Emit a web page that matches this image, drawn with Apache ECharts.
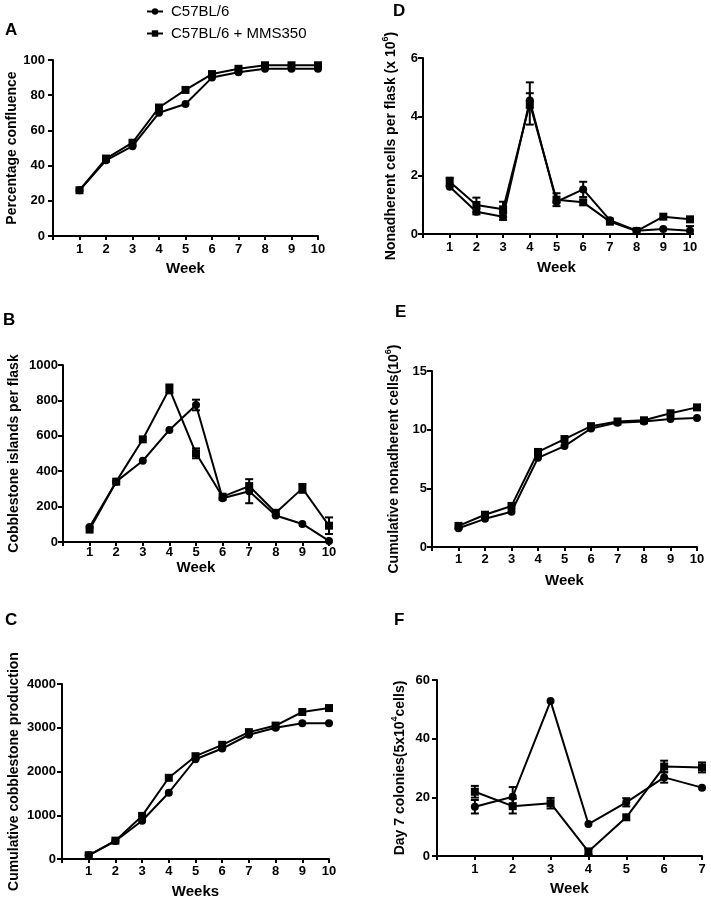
<!DOCTYPE html>
<html>
<head>
<meta charset="utf-8">
<script src="https://cdn.jsdelivr.net/npm/echarts@6/dist/echarts.min.js"></script>
<style>
html,body{margin:0;padding:0;background:#fff;}
#chart{width:711px;height:900px;}
</style>
</head>
<body>
<div id="chart"></div>
<script>
// ---------------- data ----------------
const seriesNames = ['C57BL/6', 'C57BL/6 + MMS350'];
const weeks10 = [1, 2, 3, 4, 5, 6, 7, 8, 9, 10];
const weeks7 = [1, 2, 3, 4, 5, 6, 7];

// A: Percentage confluence
const aCirc = [26, 43, 51, 70, 75, 90, 93, 95, 95, 95];
const aSq   = [26, 44, 53, 73, 83, 92, 95, 97, 97, 97];

// B: Cobblestone islands per flask
const bCirc    = [85, 341, 459, 633, 774, 247, 287, 150, 102, 6];
const bCircErr = [0, 0, 0, 0, 30, 0, 68, 0, 0, 0];
const bSq      = [70, 341, 580, 865, 501, 256, 316, 165, 303, 92];
const bSqErr   = [0, 0, 0, 25, 28, 0, 0, 0, 25, 47];

// C: Cumulative cobblestone production
const cCirc = [85, 410, 875, 1515, 2280, 2525, 2840, 3000, 3105, 3105];
const cSq   = [85, 420, 985, 1856, 2350, 2610, 2900, 3050, 3360, 3450];

// D: Nonadherent cells per flask (x10^6)
const dCirc    = [1.61, 0.76, 0.59, 4.55, 1.10, 1.52, 0.47, 0.11, 0.17, 0.11];
const dCircErr = [0, 0.09, 0.11, 0.25, 0, 0.26, 0, 0, 0, 0.16];
const dSq      = [1.78, 0.99, 0.84, 4.45, 1.17, 1.08, 0.42, 0.10, 0.59, 0.50];
const dSqErr   = [0.14, 0.25, 0.26, 0.72, 0.22, 0, 0, 0, 0, 0];

// E: Cumulative nonadherent cells (10^6)
const eCirc = [1.6, 2.4, 3.0, 7.6, 8.6, 10.1, 10.6, 10.7, 10.9, 11.0];
const eSq   = [1.8, 2.75, 3.5, 8.1, 9.2, 10.3, 10.7, 10.8, 11.4, 11.9];

// F: Day 7 colonies (5x10^4 cells)
const fCirc    = [16.8, 20.2, 52.8, 10.9, 18.3, 26.8, 23.3];
const fCircErr = [2.3, 3.3, 0, 0, 1.4, 1.8, 0];
const fSq      = [21.9, 17.0, 18.0, 1.5, 13.2, 30.5, 30.2];
const fSqErr   = [2.0, 2.5, 1.8, 1.0, 0, 2.0, 1.7];

// y-axis ticks [min, max, interval]
const yTicksA = [0, 100, 20];
const yTicksB = [0, 1000, 200];
const yTicksC = [0, 4000, 1000];
const yTicksD = [0, 6, 2];
const yTicksE = [0, 15, 5];
const yTicksF = [0, 60, 20];

// ---------------- layout / style ----------------
const FONT = '"Liberation Sans", Arial, Helvetica, sans-serif';
const panels = [
  {letter: 'A', lx: 11, ly: 31, grid: {left: 53, top: 60, width: 265, height: 176},
   weeks: weeks10, circ: aCirc, sq: aSq, circErr: null, sqErr: null, yt: yTicksA,
   yName: 'Percentage confluence', yGap: 34, yLabMargin: 8, xName: 'Week', xGap: 25, xLabMargin: 7},
  {letter: 'B', lx: 9, ly: 321, grid: {left: 63, top: 365, width: 266, height: 177},
   weeks: weeks10, circ: bCirc, sq: bSq, circErr: bCircErr, sqErr: bSqErr, yt: yTicksB,
   yName: 'Cobblestone islands per flask', yGap: 42, yLabMargin: 5, xName: 'Week', xGap: 18, xLabMargin: 4},
  {letter: 'C', lx: 11, ly: 621, grid: {left: 62, top: 684, width: 267, height: 176},
   weeks: weeks10, circ: cCirc, sq: cSq, circErr: null, sqErr: null, yt: yTicksC,
   yName: 'Cumulative cobblestone production', yGap: 41, yLabMargin: 6, xName: 'Weeks', xGap: 25, xLabMargin: 6},
  {letter: 'D', lx: 399, ly: 12, grid: {left: 423, top: 58, width: 267, height: 176},
   weeks: weeks10, circ: dCirc, sq: dSq, circErr: dCircErr, sqErr: dSqErr, yt: yTicksD,
   yName: '{n|Nonadherent cells per flask (x 10}{s|6}{n|)}', yGap: 22, yLabMargin: 5, xName: 'Week', xGap: 26, xLabMargin: 7},
  {letter: 'E', lx: 401, ly: 313, grid: {left: 432, top: 371, width: 265, height: 176},
   weeks: weeks10, circ: eCirc, sq: eSq, circErr: null, sqErr: null, yt: yTicksE,
   yName: '{n|Cumulative nonadherent cells(10}{s|6}{n|)}', yGap: 28, yLabMargin: 5, xName: 'Week', xGap: 26, xLabMargin: 6},
  {letter: 'F', lx: 400, ly: 621, grid: {left: 437, top: 680, width: 265, height: 176},
   weeks: weeks7, circ: fCirc, sq: fSq, circErr: fCircErr, sqErr: fSqErr, yt: yTicksF,
   yName: '{n|Day 7 colonies(5x10}{s|4}{n|cells)}', yGap: 27, yLabMargin: 7, xName: 'Week', xGap: 25, xLabMargin: 7}
];

const richName = {
  n: {fontSize: 14, fontWeight: 'bold', fontFamily: FONT, color: '#000', lineHeight: 20},
  s: {fontSize: 9, fontWeight: 'bold', fontFamily: FONT, color: '#000', lineHeight: 20, verticalAlign: 'top'}
};

function zip(xs, ys) { return xs.map((x, i) => [x, ys[i]]); }
function zipErr(xs, ys, es) {
  const out = [];
  xs.forEach((x, i) => { if (es[i] > 0) out.push([x, ys[i], es[i]]); });
  return out;
}
function errRender(params, api) {
  const x = api.value(0), y = api.value(1), e = api.value(2);
  const top = api.coord([x, y + e]);
  const bot = api.coord([x, Math.max(y - e, 0)]);
  const w = 4;
  const st = {stroke: '#000', lineWidth: 2};
  return {type: 'group', children: [
    {type: 'line', shape: {x1: top[0], y1: top[1], x2: bot[0], y2: bot[1]}, style: st},
    {type: 'line', shape: {x1: top[0] - w, y1: top[1], x2: top[0] + w, y2: top[1]}, style: st},
    {type: 'line', shape: {x1: bot[0] - w, y1: bot[1], x2: bot[0] + w, y2: bot[1]}, style: st}
  ]};
}

const grid = [], xAxis = [], yAxis = [], series = [], graphic = [];
panels.forEach((p, i) => {
  grid.push(p.grid);
  const maxW = p.weeks[p.weeks.length - 1];
  xAxis.push({
    type: 'value', gridIndex: i, min: 0, max: maxW, interval: 1,
    name: p.xName, nameLocation: 'middle', nameGap: p.xGap,
    nameTextStyle: {fontSize: 15, fontWeight: 'bold', fontFamily: FONT, color: '#000'},
    axisLine: {show: true, onZero: false, lineStyle: {color: '#000', width: 2}},
    axisTick: {show: true, length: 4, lineStyle: {color: '#000', width: 2}},
    axisLabel: {fontSize: 13, fontWeight: 'bold', fontFamily: FONT, color: '#000', margin: p.xLabMargin,
      formatter: v => (v === 0 ? '' : String(v))},
    splitLine: {show: false}
  });
  yAxis.push({
    type: 'value', gridIndex: i, min: p.yt[0], max: p.yt[1], interval: p.yt[2],
    name: p.yName, nameLocation: 'middle', nameGap: p.yGap, nameRotate: 90,
    nameTextStyle: {fontSize: 14, fontWeight: 'bold', fontFamily: FONT, color: '#000', rich: richName},
    axisLine: {show: true, onZero: false, lineStyle: {color: '#000', width: 2}},
    axisTick: {show: true, length: 5, lineStyle: {color: '#000', width: 2}},
    axisLabel: {fontSize: 13, fontWeight: 'bold', fontFamily: FONT, color: '#000', margin: p.yLabMargin,
      formatter: v => String(v)},
    splitLine: {show: false}
  });
  const common = {
    type: 'line', xAxisIndex: i, yAxisIndex: i, color: '#000',
    lineStyle: {color: '#000', width: 2}, itemStyle: {color: '#000'},
    symbolSize: 8, showAllSymbol: true, emphasis: {disabled: true}, silent: true
  };
  series.push(Object.assign({}, common, {name: seriesNames[0], symbol: 'circle', data: zip(p.weeks, p.circ)}));
  series.push(Object.assign({}, common, {name: seriesNames[1], symbol: 'rect', data: zip(p.weeks, p.sq)}));
  if (p.circErr) {
    series.push({type: 'custom', name: 'err-c-' + i, xAxisIndex: i, yAxisIndex: i, silent: true,
      renderItem: errRender, data: zipErr(p.weeks, p.circ, p.circErr), z: 3});
  }
  if (p.sqErr) {
    series.push({type: 'custom', name: 'err-s-' + i, xAxisIndex: i, yAxisIndex: i, silent: true,
      renderItem: errRender, data: zipErr(p.weeks, p.sq, p.sqErr), z: 3});
  }
  graphic.push({type: 'text', left: p.lx - 6, top: p.ly - 9,
    style: {text: p.letter, font: 'bold 17px ' + FONT, fill: '#000'}});
});

const chart = echarts.init(document.getElementById('chart'), null, {renderer: 'canvas'});
chart.setOption({
  animation: false,
  backgroundColor: '#fff',
  textStyle: {fontFamily: FONT},
  legend: {
    data: seriesNames, orient: 'vertical', left: 141, top: -1,
    itemWidth: 16, itemHeight: 8, itemGap: 7,
    textStyle: {fontSize: 15, fontFamily: FONT, color: '#000', padding: [0, 0, 0, 3]},
    selectedMode: false
  },
  grid: grid,
  xAxis: xAxis,
  yAxis: yAxis,
  series: series,
  graphic: graphic
});
</script>
</body>
</html>
